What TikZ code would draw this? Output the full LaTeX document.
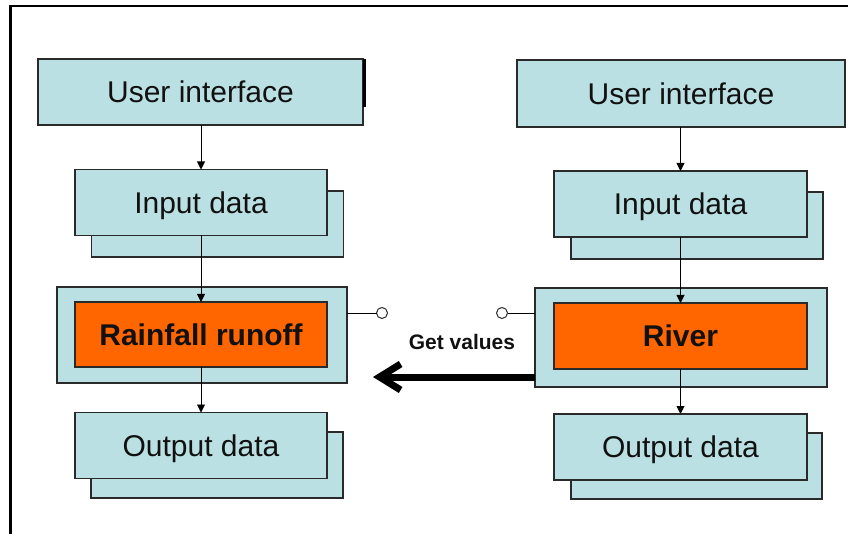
\documentclass[tikz,border=0pt]{standalone}
\usepackage{fontspec}
\setmainfont{Liberation Sans}
\usetikzlibrary{arrows.meta}
\definecolor{cyanfill}{HTML}{BBE0E3}
\definecolor{orangefill}{HTML}{FF6600}
\definecolor{boxline}{HTML}{2A2A2A}
\definecolor{textc}{HTML}{111111}
\begin{document}
\begin{tikzpicture}[x=1pt,y=-1pt,
  box/.style={draw=boxline, fill=cyanfill, line width=1.2pt, inner sep=0pt, outer sep=0pt,
    text=textc, text depth=0pt, font=\fontsize{30}{36}\selectfont},
  modelbox/.style={box, fill=orangefill, font=\fontsize{30}{36}\selectfont\bfseries},
  conbox/.style={draw=boxline, fill=cyanfill, line width=1.2pt, inner sep=0pt, outer sep=0pt},
  flow/.style={draw=black, line width=0.9pt, -{Triangle[length=8pt,width=8pt]}},
  plain/.style={draw=black, line width=0.9pt},
  port/.style={circle, draw=boxline, fill=white, line width=1pt, minimum size=11pt, inner sep=0pt, outer sep=0pt},
  getarrow/.style={draw=black, line width=7pt, -{Straight Barb[length=21pt,width=26pt]}}
]
\useasboundingbox (0,0) rectangle (848,534);
% frame (top and left edge)
\coordinate (fbl) at (10.5,534);
\coordinate (ftl) at (10.5,6);
\coordinate (ftr) at (848,6);
\draw[line width=2.5pt, line cap=rect] (fbl) -- (ftl) -- (ftr);

% ---------- left column ----------
\node[box, minimum width=325pt, minimum height=66pt] (lui) at (200.5,92) {User interface};
\coordinate (lbarT) at (364.5,59);
\coordinate (lbarB) at (364.5,107);
\draw[line width=2.5pt] (lbarT) -- (lbarB);

\node[box, minimum width=252pt, minimum height=66pt] (linb) at (217.5,224) {};
\node[box, minimum width=252pt, minimum height=66pt] (lin) at (201,202.5) {Input data};

\node[conbox, minimum width=290pt, minimum height=96pt] (lcont) at (202,335) {};
\node[modelbox, minimum width=252pt, minimum height=65pt] (lmod) at (201,334.5) {Rainfall runoff};

\node[box, minimum width=252pt, minimum height=66pt] (loutb) at (217,465) {};
\node[box, minimum width=252pt, minimum height=66pt] (lout) at (201,445.5) {Output data};

\draw[flow] (lui.south -| lin.north) -- (lin.north);
\draw[flow] (lin.south -| lmod.north) -- (lmod.north);
\draw[flow] (lmod.south -| lout.north) -- (lout.north);

\node[port] (lport) at (382,313) {};
\draw[plain] (lcont.east |- lport) -- (lport);

% ---------- right column ----------
\node[box, minimum width=328pt, minimum height=67pt] (rui) at (681,93.5) {User interface};

\node[box, minimum width=252pt, minimum height=67pt] (rinb) at (697,225.5) {};
\node[box, minimum width=253pt, minimum height=66pt] (rin) at (680.5,204) {Input data};

\node[conbox, minimum width=292pt, minimum height=99pt] (rcont) at (681,337.5) {};
\node[modelbox, minimum width=253pt, minimum height=66pt] (rmod) at (680.5,336) {River};

\node[box, minimum width=251pt, minimum height=66pt] (routb) at (696.5,466) {};
\node[box, minimum width=253pt, minimum height=66pt] (rout) at (680.5,447) {Output data};

\draw[flow] (rui.south -| rin.north) -- (rin.north);
\draw[flow] (rin.south -| rmod.north) -- (rmod.north);
\draw[flow] (rmod.south -| rout.north) -- (rout.north);

\node[port] (rport) at (502,313) {};
\draw[plain] (rcont.west |- rport) -- (rport);

% ---------- get values ----------
\node[text=textc, font=\fontsize{21}{25}\selectfont\bfseries, inner sep=0pt] (gv) at (462,342) {Get values};
\coordinate (gvtip) at (373,377);
\draw[getarrow] (rcont.west |- gvtip) -- (gvtip);
\end{tikzpicture}
\end{document}
